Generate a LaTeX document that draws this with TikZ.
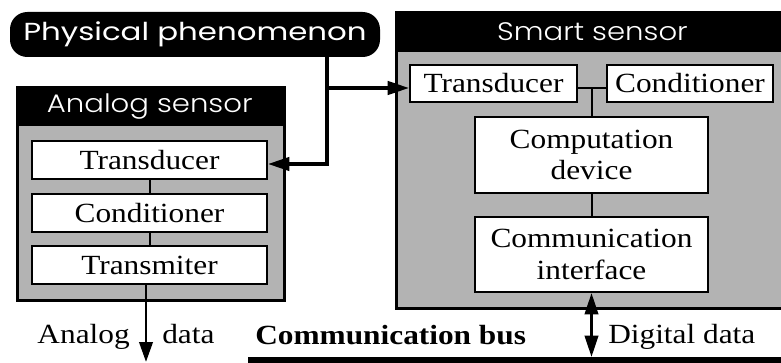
\documentclass[tikz,border=0pt]{standalone}
\usepackage{fontspec}
\setmainfont{Liberation Serif}[FakeStretch=1.13]
\newfontfamily\gothic{Poppins}[FakeStretch=1.25]
\newfontfamily\gothiclight{Poppins Light}[FakeStretch=1.15]
\usetikzlibrary{arrows.meta}
\usetikzlibrary{positioning}
\definecolor{bodygray}{RGB}{179,179,179}
\tikzset{
  part/.style={rectangle,draw=black,fill=white,line width=1.5pt,inner sep=0pt,align=center,font=\fontsize{20.8}{23.5}\selectfont},
  housing/.style={rectangle,draw=black,fill=bodygray,line width=2.6pt,inner sep=0pt},
  header/.style={rectangle,fill=black,text=white,inner sep=0pt,font=\gothiclight\fontsize{19}{20}\selectfont},
  link/.style={line width=1.5pt},
  flow/.style={line width=2.6pt,-{Triangle[length=16pt,width=10pt]}},
  label/.style={inner sep=0pt,font=\fontsize{20.8}{23.5}\selectfont}
}

\begin{document}
\begin{tikzpicture}[x=0.75pt,y=-0.75pt,node distance=39.4pt]
\useasboundingbox (0,0) rectangle (781,363);
\clip (0,0) rectangle (781,363);
% phenomenon
\node[rectangle,rounded corners=13pt,fill=black,text=white,minimum width=277.5pt,minimum height=33.75pt,inner sep=0pt,font=\gothic\fontsize{18.5}{19}\selectfont](pp) at (195,34.5){Physical phenomenon};
% analog sensor
\node[housing,anchor=north west,minimum width=200.25pt,minimum height=159.75pt](analog) at (16,86){};
\node[header,anchor=north west,minimum width=200.25pt,minimum height=30pt](analoghead) at (analog.north west){Analog sensor};
\node[part,minimum width=176.25pt,minimum height=28.5pt](atrans) at (149.5,160){Transducer};
\node[part,minimum width=176.25pt,minimum height=28.5pt,below of=atrans](acond){Conditioner};
\node[part,minimum width=176.25pt,minimum height=28.5pt,below of=acond](atx){Transmiter};
\draw[link] (atrans) -- (acond);
\draw[link] (acond) -- (atx);
% smart sensor
\node[housing,anchor=north west,minimum width=303.75pt,minimum height=222pt](smart) at (395,11){};
\node[header,anchor=north west,minimum width=303.75pt,minimum height=30.75pt](smarthead) at (smart.north west){};
\node[header](smarttitle) at (592.5,32){Smart sensor};
\node[part,minimum width=125.25pt,minimum height=27.75pt](strans) at (493.5,83.5){Transducer};
\node[part,minimum width=124.5pt,minimum height=27.75pt](scond) at (690,83.5){Conditioner};
\node[part,minimum width=174.75pt,minimum height=57pt](comp) at (591.5,155){Computation\\device};
\node[part,minimum width=174.75pt,minimum height=56.25pt](cint) at (591.5,254.5){Communication\\interface};
\coordinate (junction) at (591.5,88);
\draw[link] (strans.east |- junction) -- (scond.west |- junction);
\draw[link] (junction) -- (comp.north);
\draw[link] (comp) -- (cint);
% bus
\node[rectangle,fill=black,inner sep=0pt,anchor=north west,minimum width=420pt,minimum height=9pt](bus) at (248,357){};
\node[label,anchor=base west,font=\bfseries\fontsize{20.8}{23.5}\selectfont](buslabel) at (255,344){Communication bus};
% flows
\coordinate (split) at (327,88);
\coordinate (bend) at (327,164);
\draw[flow] (pp.south -| split) -- (bend) -- (atrans.east |- bend);
\draw[flow] (split) -- (strans.west |- split);
\coordinate (aout) at (146,362);
\draw[line width=2.2pt,-{Triangle[length=15pt,width=10pt]}] (atx.south -| aout) -- (aout);
\node[label,anchor=base east](analoglabel) at (130,343){Analog};
\node[label,anchor=base west](datalabel) at (162,343){data};
\draw[line width=2.2pt,{Triangle[length=16pt,width=10pt]}-{Triangle[length=16pt,width=10pt]}] (cint.south) -- (cint.south |- bus.north);
\node[label,anchor=base west](digitallabel) at (608,343){Digital data};
\end{tikzpicture}
\end{document}
